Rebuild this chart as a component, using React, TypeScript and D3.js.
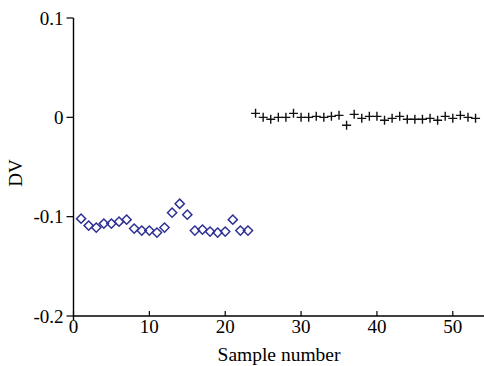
import * as d3 from 'd3'
import { useEffect, useRef } from 'react'

// group 1 (diamonds), samples 1-23
const groupAx = d3.range(1, 24)
const groupA = [
  -0.102, -0.109, -0.111, -0.107, -0.107, -0.105, -0.103, -0.112, -0.114, -0.114,
  -0.116, -0.111, -0.096, -0.087, -0.098, -0.114, -0.113, -0.115, -0.116, -0.115,
  -0.103, -0.114, -0.114,
]

// group 2 (crosses), samples 24-53
const groupBx = d3.range(24, 54)
const groupB = [
  0.004, 0.0, -0.002, 0.0, 0.0, 0.004, 0.0, 0.0, 0.001, 0.0,
  0.001, 0.002, -0.008, 0.003, -0.001, 0.001, 0.001, -0.003, -0.001, 0.001,
  -0.002, -0.002, -0.002, -0.001, -0.003, 0.001, -0.001, 0.002, 0.0, -0.001,
]

const xTicks = [0, 10, 20, 30, 40, 50]
const yTicks = [0.1, 0, -0.1, -0.2]

const W = 484
const H = 366
const FONT = '"Liberation Serif", "Times New Roman", serif'

export default function App() {
  const ref = useRef<SVGSVGElement | null>(null)

  useEffect(() => {
    if (!ref.current) return
    const svg = d3.select(ref.current)
    svg.selectAll('*').remove()

    const x = d3.scaleLinear().domain([0, 50]).range([73.5, 452.8])
    const y = d3.scaleLinear().domain([-0.2, 0.1]).range([316, 18])

    svg.append('rect').attr('width', W).attr('height', H).attr('fill', '#fff')

    // y axis
    const gy = svg.append('g').attr('transform', `translate(${x(0)},0)`)
    gy.append('line')
      .attr('y1', y(0.1)).attr('y2', y(-0.2) + 4)
      .attr('stroke', '#000').attr('stroke-width', 1.4)
    yTicks.forEach(t => {
      gy.append('line')
        .attr('x1', -7).attr('x2', 0)
        .attr('y1', y(t)).attr('y2', y(t))
        .attr('stroke', '#000').attr('stroke-width', 1.2)
      gy.append('text')
        .attr('x', -10).attr('y', y(t))
        .attr('dy', '0.35em')
        .attr('text-anchor', 'end')
        .attr('font-family', FONT).attr('font-size', 19)
        .text(t === 0 ? '0' : t.toFixed(1))
    })

    // x axis
    const gx = svg.append('g').attr('transform', `translate(0,${y(-0.2)})`)
    gx.append('line')
      .attr('x1', x(0)).attr('x2', x(60))
      .attr('stroke', '#000').attr('stroke-width', 1.4)
    xTicks.forEach(t => {
      gx.append('line')
        .attr('x1', x(t)).attr('x2', x(t))
        .attr('y1', 0).attr('y2', -5)
        .attr('stroke', '#000').attr('stroke-width', 1.2)
      gx.append('text')
        .attr('x', x(t)).attr('y', 17)
        .attr('text-anchor', 'middle')
        .attr('font-family', FONT).attr('font-size', 19)
        .text(String(t))
    })

    svg.append('text')
      .attr('x', 279).attr('y', 361)
      .attr('text-anchor', 'middle')
      .attr('font-family', FONT).attr('font-size', 19.5)
      .text('Sample number')

    svg.append('text')
      .attr('transform', `translate(22,173) rotate(-90)`)
      .attr('text-anchor', 'middle')
      .attr('font-family', FONT).attr('font-size', 19)
      .text('DV')

    // diamonds
    const diamond = 'M0,-4.6L4.6,0L0,4.6L-4.6,0Z'
    svg.append('g').selectAll('path')
      .data(groupA)
      .join('path')
      .attr('d', diamond)
      .attr('transform', (d, i) => `translate(${x(groupAx[i])},${y(d)})`)
      .attr('fill', 'none')
      .attr('stroke', '#2e3192')
      .attr('stroke-width', 1.5)

    // crosses
    const cross = 'M-4.5,0H4.5M0,-4.5V4.5'
    svg.append('g').selectAll('path')
      .data(groupB)
      .join('path')
      .attr('d', cross)
      .attr('transform', (d, i) => `translate(${x(groupBx[i])},${y(d)})`)
      .attr('fill', 'none')
      .attr('stroke', '#111')
      .attr('stroke-width', 1.4)
  }, [])

  return (
    <div style={{ position: 'absolute', left: 0, top: 0 }}>
      <svg ref={ref} width={W} height={H} style={{ display: 'block' }}></svg>
    </div>
  )
}
